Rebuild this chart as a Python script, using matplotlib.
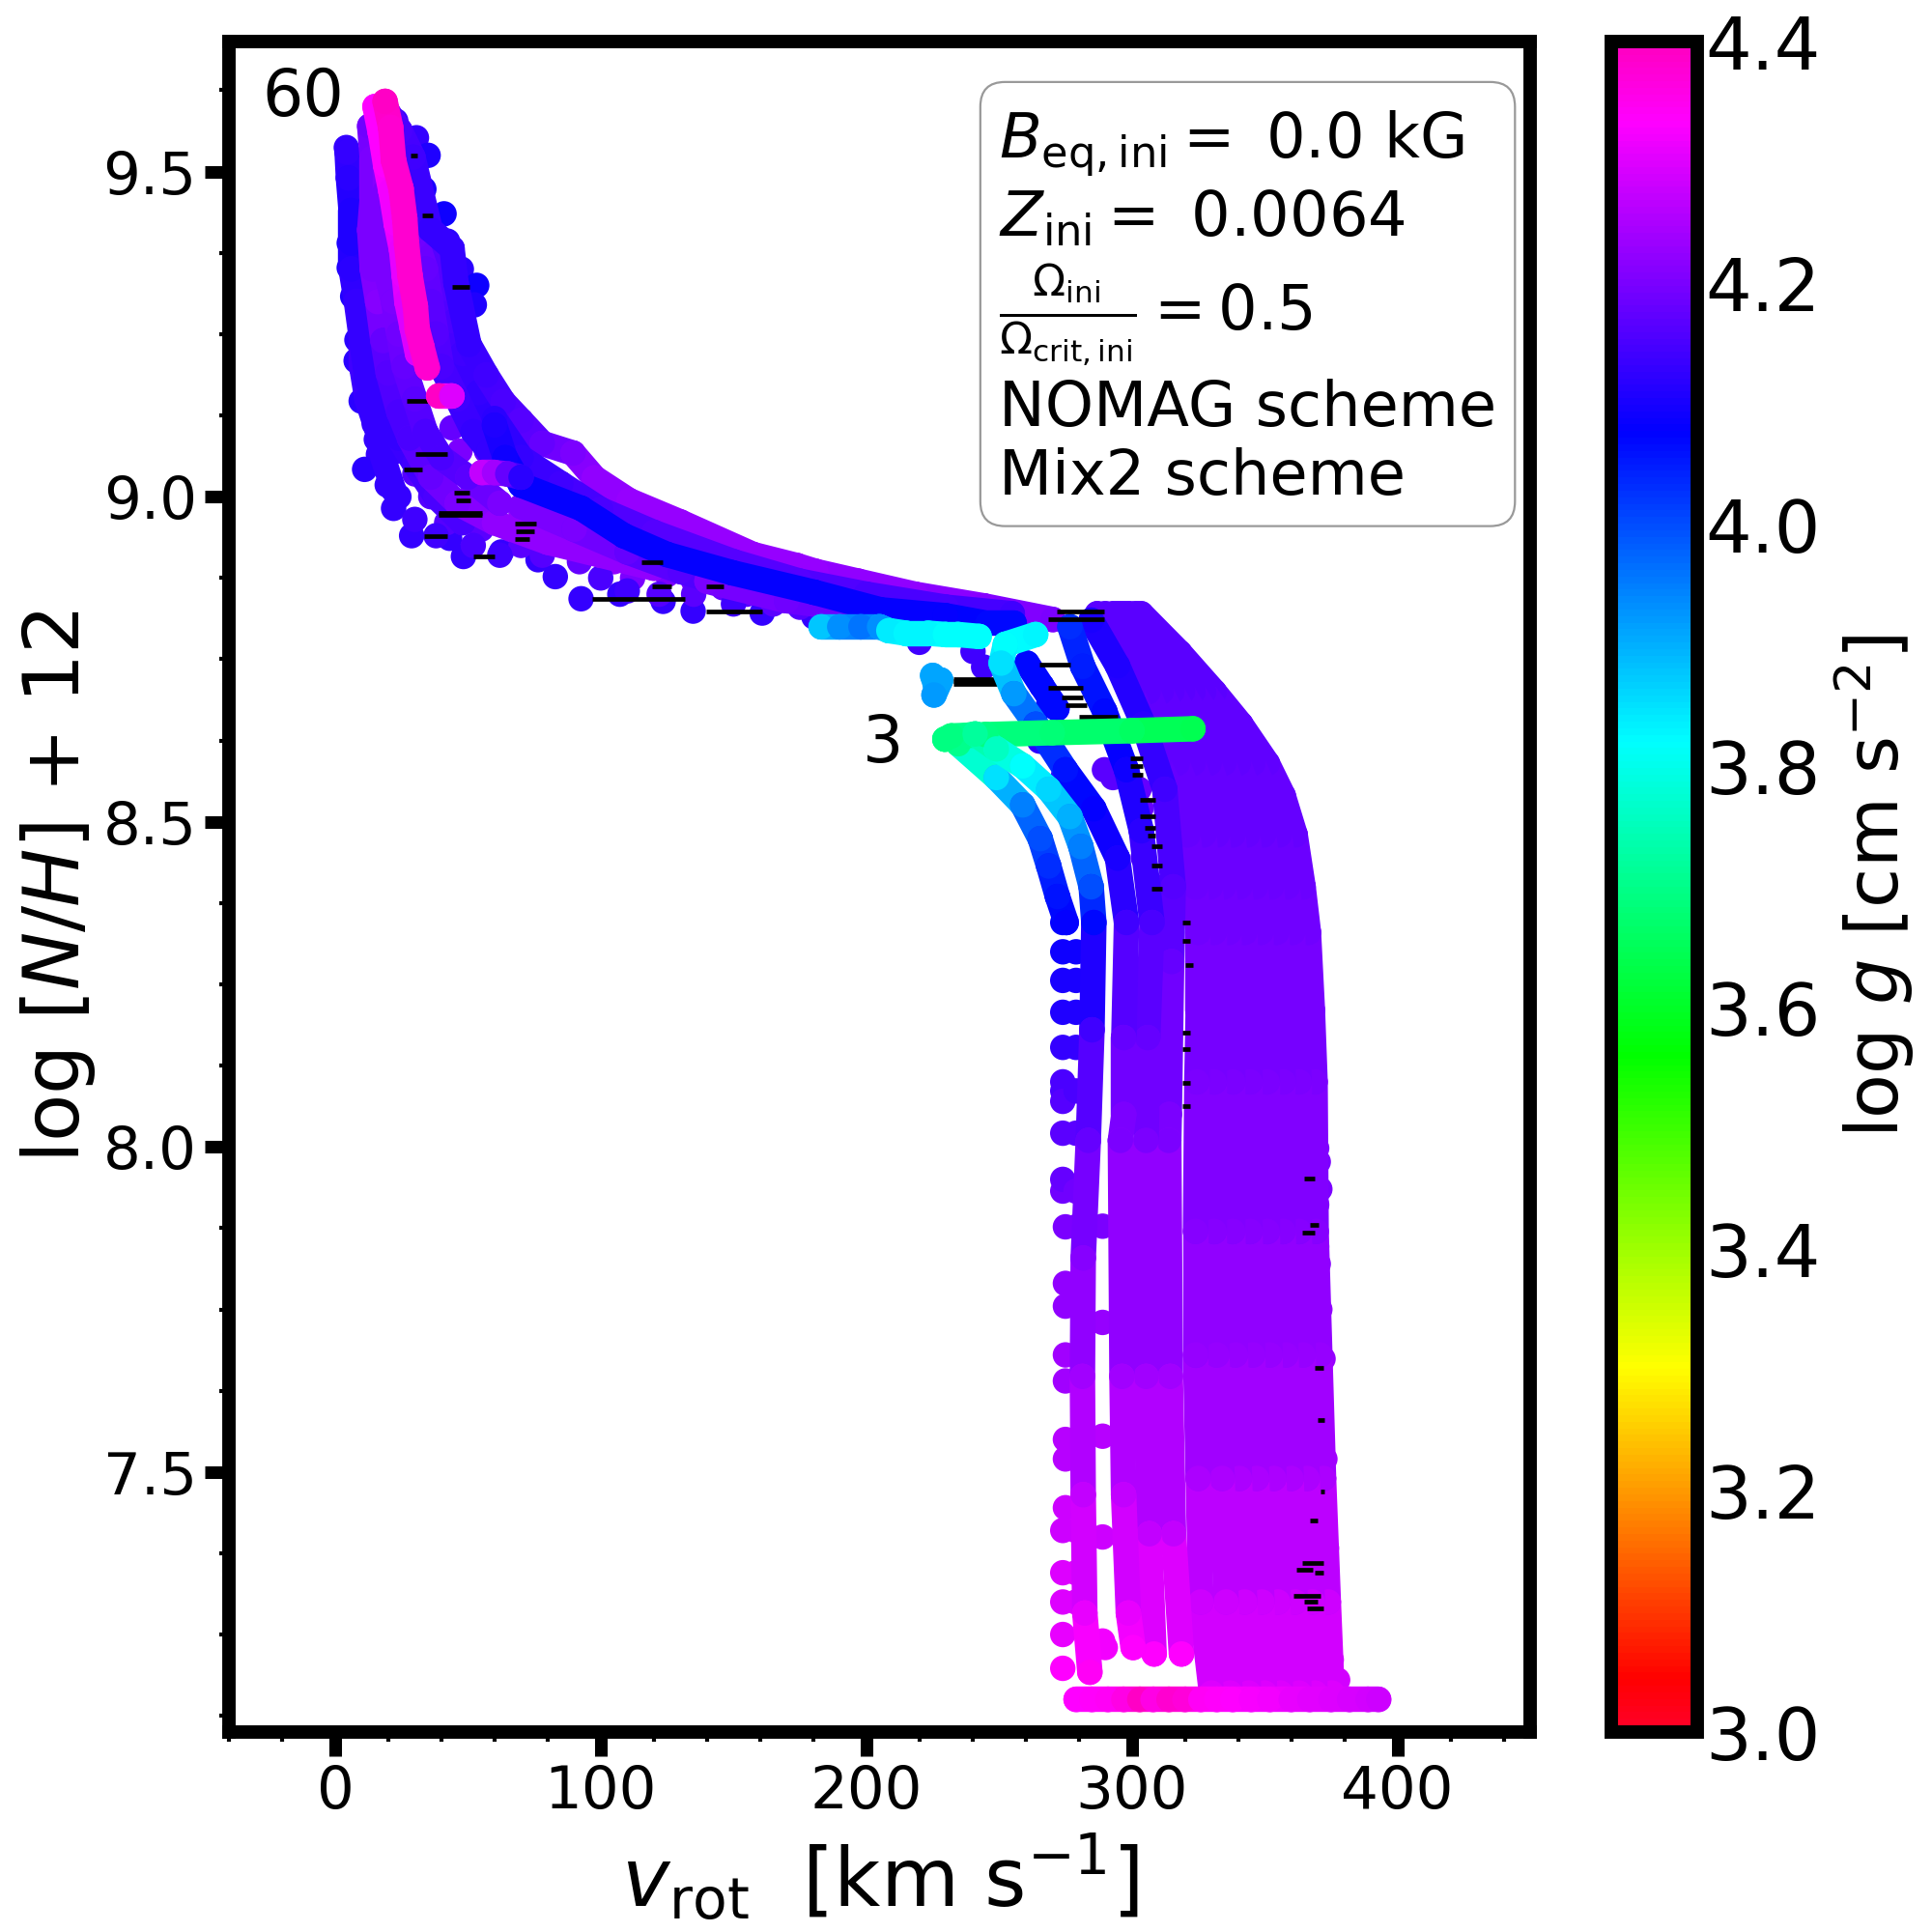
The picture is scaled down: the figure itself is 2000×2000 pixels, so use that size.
import numpy as np
import matplotlib
matplotlib.use('Agg')
import matplotlib.pyplot as plt
from matplotlib.collections import LineCollection
from matplotlib.colors import Normalize
from matplotlib.cm import ScalarMappable
from matplotlib.ticker import MultipleLocator

# main bundle of tracks, shared logN knots
band_n = [7.16, 7.30, 7.49, 7.68, 7.87, 8.10, 8.21, 8.33, 8.40, 8.48, 8.54, 8.59, 8.65, 8.70, 8.76, 8.82]
band_g = [4.30, 4.28, 4.25, 4.23, 4.21, 4.2, 4.195, 4.19, 4.185, 4.18, 4.18, 4.175, 4.175, 4.17, 4.17, 4.17]
band_v1 = [375.4, 374, 372.2, 370.8, 369.4, 369, 368, 366.5, 364.5, 361.5, 357, 351, 341, 331, 318, 303.5]
band_v2 = [369, 368, 366, 364.5, 363, 363, 362, 360.5, 358.5, 355.5, 351, 345.5, 336, 327, 315, 301.5]
band_v3 = [363, 361.5, 360, 358, 357, 357, 356, 354.5, 352.5, 349.5, 345, 340, 331, 323, 312, 299]
band_v4 = [356, 355, 353.5, 352, 351, 351, 350, 348.5, 346.5, 343.5, 339, 334.5, 326.5, 319, 309, 297]
band_v5 = [350, 349, 347, 345.5, 344.5, 344.5, 344, 342.5, 340.5, 338, 333.5, 329, 322, 315, 306, 295]
band_v6 = [344, 342.5, 340.5, 339, 338, 338, 337.5, 336.5, 334.5, 332, 327.5, 323, 317, 311, 303, 293]
band_v7 = [337, 335.5, 334, 332, 331, 331, 331, 331, 329.5, 327, 322, 317, 311, 306, 299, 290]
band_v8 = [330, 326, 325, 324, 324, 324.5, 325, 325, 324, 321, 316, 310, 305, 300, 294, 287]

# right edge scallops of the bundle
edge_v = [369.6, 370.2, 370.8, 369.6, 369.6, 370.2, 369.6, 370.8, 369, 372, 369.6, 370.8, 371.4,
          372.7, 369.6, 371.4, 373.3, 371.4, 370.8, 373.9, 373.3, 375.1, 377.5]
edge_n = [7.998, 7.977, 7.935, 7.911, 7.847, 7.82, 7.771, 7.75, 7.726, 7.674, 7.635, 7.592, 7.544,
          7.52, 7.483, 7.432, 7.383, 7.356, 7.332, 7.292, 7.25, 7.211, 7.18]
edge_g = [4.2, 4.2, 4.2, 4.2, 4.21, 4.21, 4.21, 4.22, 4.22, 4.23, 4.23, 4.23, 4.24,
          4.24, 4.24, 4.25, 4.26, 4.26, 4.26, 4.27, 4.27, 4.28, 4.29]

# zams row
zams_v = [279, 285, 291, 297, 303, 308, 314, 320, 326, 332, 338, 345, 352, 360, 367, 375, 382, 389, 393]
zams_n = [7.15, 7.15, 7.15, 7.15, 7.15, 7.15, 7.15, 7.15, 7.15, 7.15, 7.15, 7.15, 7.15, 7.15, 7.15, 7.15, 7.15, 7.15, 7.15]
zams_g = [4.33, 4.335, 4.34, 4.36, 4.39, 4.36, 4.38, 4.37, 4.34, 4.335, 4.33, 4.325, 4.32, 4.31, 4.305, 4.30, 4.295, 4.29, 4.285]

# lower mass tracks
t3_v = [323, 300, 270, 245, 232, 229.6, 241, 249, 258.9, 268.7, 276.7, 280.8, 284.7, 285.7, 285, 283.6, 281.7, 281.4, 281.7, 282.3, 284.2]
t3_n = [8.643, 8.640, 8.637, 8.634, 8.632, 8.627, 8.635, 8.612, 8.586, 8.55, 8.508, 8.462, 8.40, 8.345, 8.18, 8.01, 7.829, 7.647, 7.465, 7.283, 7.192]
t3_g = [3.64, 3.66, 3.68, 3.69, 3.69, 3.69, 3.72, 3.76, 3.82, 3.86, 3.90, 3.95, 4.0, 4.07, 4.14, 4.18, 4.21, 4.24, 4.27, 4.31, 4.34]

lump_v = [234.6, 249, 258.9, 265.5, 268.7, 272, 275.3]
lump_n = [8.62, 8.568, 8.526, 8.474, 8.432, 8.385, 8.345]
lump_g = [3.70, 3.85, 3.95, 4.0, 4.03, 4.06, 4.08]

# left hand lumps of the lowest mass (two columns reach the track next to them)
stub_v = [274, 274, 274, 274, 274, 274, 274, 275, 275, 275, 275, 275, 275, 275, 275, 274, 274, 274, 274, 274, 274, 274, 274, 274,
          279, 279, 279, 279, 279, 279, 279, 279, 279, 279, 279, 279, 279, 279, 279, 279, 279, 279,
          289, 289, 289, 289, 289, 290]
stub_n = [8.30, 8.256, 8.207, 8.153, 8.086, 8.021, 7.932, 7.877, 7.79, 7.755, 7.68, 7.64, 7.55, 7.52, 7.445, 7.41, 7.345, 7.30, 7.25, 7.198, 8.345, 8.10, 8.07, 7.95,
          8.30, 8.256, 8.207, 8.153, 8.086, 8.021, 7.932, 7.877, 7.79, 7.755, 7.68, 7.64, 7.55, 7.52, 7.445, 7.41, 7.345, 7.30,
          7.878, 7.73, 7.555, 7.40, 7.24, 7.23]
stub_g = [4.09, 4.10, 4.11, 4.13, 4.15, 4.17, 4.19, 4.2, 4.22, 4.22, 4.24, 4.24, 4.26, 4.26, 4.28, 4.28, 4.30, 4.30, 4.31, 4.33, 4.08, 4.15, 4.16, 4.18,
          4.09, 4.10, 4.11, 4.13, 4.15, 4.17, 4.19, 4.2, 4.22, 4.22, 4.24, 4.24, 4.26, 4.26, 4.28, 4.28, 4.30, 4.30,
          4.2, 4.23, 4.26, 4.28, 4.32, 4.32]

t4_v = [263.8, 252.4, 250.8, 255.6, 263.8, 275, 285.7, 294.6, 298, 297, 297, 295.7, 296.3, 296.9, 298.7, 300.5]
t4_n = [8.788, 8.773, 8.744, 8.697, 8.65, 8.58, 8.52, 8.444, 8.345, 8.168, 8.05, 8.01, 7.647, 7.465, 7.283, 7.23]
t4_g = [3.83, 3.82, 3.85, 3.92, 4.0, 4.06, 4.08, 4.1, 4.14, 4.18, 4.2, 4.2, 4.24, 4.27, 4.31, 4.33]

t5_v = [276.7, 281.5, 289.8, 298, 303.6, 307.6, 306, 305.4, 305.4, 306.6, 308.4]
t5_n = [8.80, 8.739, 8.67, 8.58, 8.486, 8.345, 8.168, 8.01, 7.647, 7.405, 7.22]
t5_g = [4.03, 4.05, 4.07, 4.09, 4.12, 4.15, 4.18, 4.2, 4.24, 4.27, 4.33]

t6_v = [284.7, 294.6, 304.3, 312.4, 315.6, 315, 314.1, 313.9, 314.5, 315.7, 318.7]
t6_n = [8.81, 8.74, 8.65, 8.55, 8.40, 8.285, 8.05, 8.01, 7.647, 7.405, 7.22]
t6_g = [4.1, 4.11, 4.12, 4.14, 4.16, 4.18, 4.2, 4.2, 4.24, 4.27, 4.33]

t5b_v = [260.5, 266.1, 271.8]
t5b_n = [8.744, 8.709, 8.674]
t5b_g = [4.07, 4.07, 4.07]

# blue-cyan trail near 8.8 and the small lump next to it
trail_v = [183, 190, 198, 205, 208.5, 215, 223.3, 229.8, 234.5, 242.5]
trail_n = [8.80, 8.80, 8.80, 8.80, 8.794, 8.79, 8.79, 8.788, 8.788, 8.785]
trail_g = [3.88, 3.93, 3.96, 3.93, 3.84, 3.83, 3.83, 3.82, 3.82, 3.82]
clump_v = [225, 226, 228, 225.5]
clump_n = [8.725, 8.712, 8.718, 8.695]
clump_g = [3.91, 3.91, 3.91, 3.92]

# high mass side
blue_v = [60, 64, 69.9, 92.7, 108.7, 125, 149.5, 180.4, 205.3, 229.7, 245.8, 255.6]
blue_n = [9.11, 9.06, 9.018, 8.982, 8.94, 8.911, 8.883, 8.853, 8.826, 8.817, 8.805, 8.805]
blue_g = [4.11, 4.09, 4.08, 4.08, 4.08, 4.08, 4.08, 4.08, 4.08, 4.08, 4.07, 4.07]

top_v = [19.6, 24.4, 29.3, 35.8, 44, 45.5, 50.4, 56.9, 63.3, 70, 78, 89.6, 97.6, 110.7, 130, 157.4, 173.9, 181, 197, 218.3, 244.4, 270.3]
top_n = [9.593, 9.563, 9.522, 9.411, 9.382, 9.329, 9.234, 9.187, 9.146, 9.117, 9.082, 9.067, 9.029, 8.994, 8.961, 8.911, 8.894, 8.885, 8.87, 8.85, 8.832, 8.811]
top_g = [4.16, 4.15, 4.14, 4.13, 4.13, 4.13, 4.13, 4.14, 4.15, 4.16, 4.18, 4.2, 4.22, 4.23, 4.23, 4.23, 4.23, 4.23, 4.22, 4.22, 4.21, 4.2]

mid_v = [60, 70, 85, 100, 120, 150, 175, 200, 230, 255]
mid_n = [9.12, 9.06, 9.02, 8.98, 8.945, 8.90, 8.87, 8.85, 8.83, 8.82]
mid_g = [4.12, 4.13, 4.14, 4.15, 4.16, 4.16, 4.16, 4.15, 4.15, 4.14]

under_v = [70, 90, 110, 130, 150, 175, 200, 225, 245]
under_n = [8.985, 8.95, 8.915, 8.885, 8.862, 8.84, 8.82, 8.81, 8.805]
under_g = [4.2, 4.2, 4.18, 4.16, 4.15, 4.15, 4.15, 4.14, 4.13]

c1_v = [4.5, 5, 6, 6, 6, 8, 10, 10, 12, 16, 18, 22]
c1_n = [9.53, 9.49, 9.44, 9.39, 9.35, 9.30, 9.24, 9.20, 9.15, 9.10, 9.06, 9.01]
c1_g = [4.13, 4.12, 4.11, 4.11, 4.12, 4.13, 4.14, 4.14, 4.13, 4.13, 4.13, 4.13]

c2_v = [13, 14, 14, 13, 14, 16, 18, 20, 24, 28, 36, 46, 60, 80, 100, 120]
c2_n = [9.57, 9.52, 9.46, 9.41, 9.35, 9.30, 9.24, 9.19, 9.13, 9.09, 9.03, 8.99, 8.96, 8.93, 8.91, 8.89]
c2_g = [4.19, 4.2, 4.2, 4.2, 4.2, 4.21, 4.18, 4.16, 4.15, 4.15, 4.18, 4.2, 4.22, 4.22, 4.22, 4.22]

c3_v = [20, 23, 26, 30, 34, 36, 38, 40, 46, 52, 58, 66]
c3_n = [9.58, 9.50, 9.45, 9.40, 9.35, 9.30, 9.25, 9.20, 9.15, 9.10, 9.07, 9.04]
c3_g = [4.24, 4.22, 4.2, 4.19, 4.18, 4.17, 4.16, 4.15, 4.14, 4.13, 4.13, 4.12]

c4_v = [17, 19, 19, 18, 19, 22, 24, 26, 30, 34, 40, 50, 62]
c4_n = [9.58, 9.53, 9.47, 9.41, 9.35, 9.30, 9.25, 9.20, 9.15, 9.10, 9.06, 9.03, 8.99]
c4_g = [4.24, 4.22, 4.2, 4.2, 4.2, 4.2, 4.19, 4.18, 4.17, 4.15, 4.15, 4.17, 4.2]

c5_v = [24, 28, 30, 34, 38, 42, 45, 48, 54, 60, 68, 78, 90]
c5_n = [9.56, 9.52, 9.47, 9.42, 9.37, 9.32, 9.27, 9.22, 9.16, 9.11, 9.07, 9.03, 8.99]
c5_g = [4.18, 4.16, 4.15, 4.15, 4.16, 4.16, 4.15, 4.14, 4.13, 4.12, 4.12, 4.13, 4.14]

c6_v = [9, 10, 12, 18, 24, 30, 38, 48]
c6_n = [9.30, 9.24, 9.18, 9.14, 9.09, 9.05, 9.0, 8.96]
c6_g = [4.13, 4.13, 4.13, 4.13, 4.13, 4.14, 4.15, 4.15]

low_v = [140, 170, 200, 230, 255]
low_n = [8.87, 8.84, 8.825, 8.815, 8.81]
low_g = [4.2, 4.19, 4.18, 4.15, 4.13]

spot_v = [55.3, 60, 65, 70]
spot_n = [9.037, 9.037, 9.035, 9.03]
spot_g = [4.27, 4.24, 4.18, 4.12]

mag_v = [15, 17, 19, 21, 23, 25, 26, 27, 29, 31]
mag_n = [9.60, 9.56, 9.51, 9.47, 9.42, 9.38, 9.34, 9.30, 9.26, 9.22]
mag_g = [4.33, 4.33, 4.33, 4.32, 4.32, 4.31, 4.31, 4.30, 4.30, 4.30]

pink_v = [18.8, 20.9, 22, 24.8, 26.2, 26.9, 28.2, 30.2, 30.9, 32.6, 34.7]
pink_n = [9.608, 9.568, 9.517, 9.474, 9.428, 9.388, 9.34, 9.293, 9.258, 9.231, 9.198]
pink_g = [4.39, 4.38, 4.38, 4.38, 4.38, 4.38, 4.38, 4.38, 4.38, 4.38, 4.38]
pink2_v = [39, 43.9]
pink2_n = [9.155, 9.155]
pink2_g = [4.39, 4.3]

# separate points around the edges of the high mass cloud
dots_v = [4.2, 5, 5.3, 6.6, 7.4, 5.3, 5.3, 6.6, 8.2, 7.9, 9.8, 14.7, 15.5, 16.3, 11.1, 19.6, 22, 28.8, 43.1, 48.3,
          62.6, 76.4, 82.9, 92.6, 107.2, 123.5, 134.8, 160.8, 180.3,
          22.8, 30.6, 35, 33.4, 41, 42.3, 47.5, 53.3, 52.4, 47.2, 52, 60.2,
          18, 31, 44, 23, 34, 47, 57, 30, 33, 44, 52, 24, 36, 47, 60, 70, 30, 42, 55, 66, 80, 38, 52, 70, 85, 95,
          62, 78, 92, 105, 115, 100, 112, 125, 135, 110, 122, 135, 146, 155, 150, 165, 175, 190, 205, 220, 220,
          240.2, 244.2, 265.3, 274.3, 268.6,
          289.7, 292.9, 302.7, 303.5, 304.3, 307.5, 308.3]
dots_n = [9.537, 9.517, 9.493, 9.446, 9.423, 9.39, 9.352, 9.308, 9.241, 9.209, 9.147, 9.112, 9.088, 9.065, 9.042, 9.018, 8.982, 8.94, 8.936, 8.908,
          8.915, 8.903, 8.877, 8.843, 8.85, 8.839, 8.824, 8.821, 8.815,
          9.578, 9.552, 9.525, 9.473, 9.435, 9.393, 9.35, 9.325, 9.295, 9.258, 9.217, 9.164,
          9.106, 9.106, 9.106, 9.07, 9.07, 9.07, 9.07, 9.035, 9.03, 9.035, 9.01, 9.0, 9.0, 8.985, 8.985, 8.975, 8.965, 8.96, 8.95, 8.95, 8.95, 8.94, 8.925, 8.925, 8.93, 8.925,
          8.91, 8.91, 8.9, 8.9, 8.915, 8.875, 8.875, 8.88, 8.87, 8.855, 8.85, 8.85, 8.86, 8.85, 8.835, 8.835, 8.83, 8.82, 8.815, 8.80, 8.776,
          8.762, 8.738, 8.624, 8.571, 8.679,
          8.58, 8.568, 8.55, 8.521, 8.445, 8.403, 8.377]
dots_g = [4.13, 4.13, 4.12, 4.12, 4.12, 4.1, 4.1, 4.11, 4.12, 4.12, 4.12, 4.13, 4.13, 4.13, 4.12, 4.13, 4.13, 4.13, 4.13, 4.13,
          4.13, 4.13, 4.13, 4.13, 4.13, 4.13, 4.13, 4.13, 4.13,
          4.13, 4.13, 4.11, 4.1, 4.09, 4.12, 4.12, 4.09, 4.11, 4.14, 4.14, 4.13,
          4.12, 4.2, 4.18, 4.13, 4.2, 4.2, 4.18, 4.16, 4.2, 4.2, 4.2, 4.13, 4.16, 4.17, 4.2, 4.22, 4.14, 4.16, 4.17, 4.2, 4.21, 4.14, 4.15, 4.17, 4.2, 4.21,
          4.14, 4.16, 4.18, 4.22, 4.2, 4.15, 4.2, 4.2, 4.2, 4.14, 4.16, 4.17, 4.18, 4.17, 4.14, 4.17, 4.16, 4.15, 4.14, 4.13, 4.14,
          4.14, 4.14, 4.12, 4.13, 4.07,
          4.17, 4.17, 4.18, 4.18, 4.17, 4.17, 4.17]

# black connecting strokes between successive models (start, end, logN)
jump_v0 = [271.8, 268.6, 265.3, 232.9, 232.9, 232.9, 268.6, 273.4, 275, 280, 299.4, 299.4, 300, 303, 303, 305, 306, 307.5, 307.5, 307.5,
           319, 319, 320, 319, 319, 319, 319,
           30.1, 26, 44.7, 45.5, 39, 39, 33.4, 52, 67.5, 68, 67.5, 96.7, 139.7, 115.3, 119.4, 139.7, 26.9, 32.6, 43.9, 28.5,
           365, 367, 364, 369, 370, 371, 367, 364, 362, 365, 369, 361, 366]
jump_v1 = [289.7, 289.7, 276.7, 250.7, 250.7, 250.7, 281.6, 281.6, 283.2, 294.5, 304.3, 304.3, 304.3, 309, 309, 309, 309, 311.5, 311.5, 311.5,
           322, 322, 323, 322, 322, 322, 322,
           42.3, 32.6, 50.4, 51, 55.3, 55.3, 42.3, 60.2, 75.6, 75, 73, 131.6, 160.8, 123.5, 126.7, 146.2, 35, 36.6, 50.4, 31,
           369, 370.5, 369, 372, 372.5, 372.5, 370, 372, 368, 370, 372, 371, 372]
jump_n = [8.823, 8.811, 8.741, 8.720, 8.716, 8.712, 8.706, 8.691, 8.679, 8.662, 8.597, 8.585, 8.573, 8.533, 8.509, 8.491, 8.479, 8.462, 8.433, 8.397,
          8.345, 8.317, 8.28, 8.175, 8.151, 8.098, 8.063,
          9.065, 9.042, 9.006, 8.995, 8.975, 8.972, 8.94, 8.908, 8.959, 8.947, 8.935, 8.843, 8.824, 8.899, 8.862, 8.862, 9.148, 9.433, 9.323, 9.525,
          7.951, 7.88, 7.868, 7.66, 7.58, 7.47, 7.425, 7.36, 7.35, 7.30, 7.345, 7.31, 7.29]

xlim = (-40, 450)
ylim = (7.1, 9.7)
x_ticks = [0, 100, 200, 300, 400]
y_ticks = [7.5, 8.0, 8.5, 9.0, 9.5]
cbar_ticks = [3.0, 3.2, 3.4, 3.6, 3.8, 4.0, 4.2, 4.4]

cmap = plt.get_cmap('gist_rainbow')
norm = Normalize(3.0, 4.4)
W = 2000.0
S = 90
LW = 9.5


def track(ax, v, n, g, z):
    # thick coloured line through the models, then the models themselves
    v, n, g = np.array(v), np.array(n), np.array(g)
    segs = np.stack([np.column_stack([v[:-1], n[:-1]]), np.column_stack([v[1:], n[1:]])], axis=1)
    lc = LineCollection(segs, cmap=cmap, norm=norm, linewidths=LW, capstyle='round', zorder=z)
    lc.set_array((g[:-1] + g[1:]) / 2)
    ax.add_collection(lc)
    ax.scatter(v, n, c=g, cmap=cmap, norm=norm, s=S, linewidths=0, zorder=z)


fig = plt.figure(figsize=(10, 10), dpi=200)
ax = fig.add_axes([237 / W, 1 - 1793 / W, (1584 - 237) / W, (1793 - 43) / W])

ax.scatter(dots_v, dots_n, c=dots_g, cmap=cmap, norm=norm, s=S, linewidths=0, zorder=2)
ax.scatter(edge_v, edge_n, c=edge_g, cmap=cmap, norm=norm, s=S, linewidths=0, zorder=2)
for band_v in [band_v1, band_v2, band_v3, band_v4, band_v5, band_v6, band_v7, band_v8]:
    track(ax, band_v, band_n, band_g, 2.5)
track(ax, zams_v, zams_n, zams_g, 2.6)
ax.scatter(stub_v, stub_n, c=stub_g, cmap=cmap, norm=norm, s=S, linewidths=0, zorder=2.6)
for v, n, g in [(c1_v, c1_n, c1_g), (c6_v, c6_n, c6_g), (c2_v, c2_n, c2_g), (c4_v, c4_n, c4_g), (c5_v, c5_n, c5_g),
                (c3_v, c3_n, c3_g), (top_v, top_n, top_g), (under_v, under_n, under_g),
                (low_v, low_n, low_g), (mid_v, mid_n, mid_g), (blue_v, blue_n, blue_g)]:
    track(ax, v, n, g, 2.7)
track(ax, t6_v, t6_n, t6_g, 2.8)
track(ax, t5_v, t5_n, t5_g, 2.8)
track(ax, t5b_v, t5b_n, t5b_g, 2.8)
ax.hlines(jump_n, jump_v0, jump_v1, color='k', lw=1.7, zorder=3)
track(ax, spot_v, spot_n, spot_g, 3.2)
track(ax, mag_v, mag_n, mag_g, 3.25)
track(ax, pink_v, pink_n, pink_g, 3.3)
track(ax, pink2_v, pink2_n, pink2_g, 3.3)
track(ax, t4_v, t4_n, t4_g, 3.4)
track(ax, lump_v, lump_n, lump_g, 3.4)
track(ax, t3_v, t3_n, t3_g, 3.5)
track(ax, trail_v, trail_n, trail_g, 3.5)
track(ax, clump_v, clump_n, clump_g, 3.5)

ax.set_xlim(xlim)
ax.set_ylim(ylim)
ax.set_xticks(x_ticks)
ax.set_yticks(y_ticks)
ax.xaxis.set_minor_locator(MultipleLocator(20))
ax.yaxis.set_minor_locator(MultipleLocator(0.125))
ax.tick_params(which='major', length=9, width=4.7, labelsize=22, pad=3)
ax.tick_params(which='minor', length=3.7, width=1.5)
for s in ax.spines.values():
    s.set_linewidth(5)
ax.set_xlabel(r'$v_{\rm rot}$  [km s$^{-1}$]', fontsize=30, labelpad=4)
ax.set_ylabel(r'log [$N/H$] + 12', fontsize=29, labelpad=2)

ax.text(3.2, 9.614, '60', fontsize=24, ha='right', va='center', zorder=5)
ax.text(214, 8.62, '3', fontsize=24, ha='right', va='center', zorder=5)

info = ('$B_{\\rm eq,ini} =$ 0.0 kG\n'
        '$Z_{\\rm ini} =$ 0.0064\n'
        '$\\frac{\\Omega_{\\rm ini}}{\\Omega_{\\rm crit,ini}} = 0.5$\n'
        'NOMAG scheme\n'
        'Mix2 scheme')
ax.text(1034 / W, 1 - 319 / W, info, transform=fig.transFigure, fontsize=23, ha='left', va='center', zorder=6,
        bbox=dict(boxstyle='round,pad=0.3,rounding_size=0.4', fc='white', ec='0.6', lw=0.8))

cax = fig.add_axes([1668 / W, 1 - 1793 / W, (1757 - 1668) / W, (1793 - 43) / W])
sm = ScalarMappable(norm=norm, cmap=cmap)
cbar = fig.colorbar(sm, cax=cax, ticks=cbar_ticks)
cbar.outline.set_linewidth(5)
cbar.ax.tick_params(length=0, labelsize=27, pad=3)
cbar.ax.set_yticklabels(['%.1f' % t for t in cbar_ticks])
cbar.set_label(r'log $g$ [cm s$^{-2}$]', fontsize=27, labelpad=4)

fig.savefig('out.png', dpi=200)
